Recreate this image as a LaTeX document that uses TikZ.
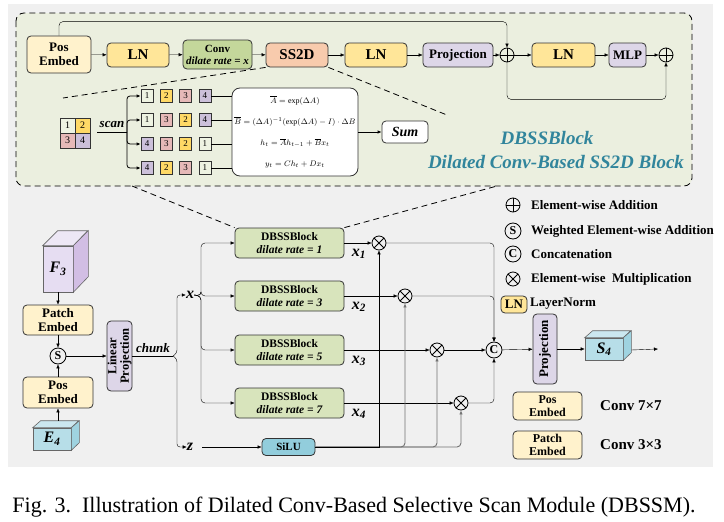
\documentclass[tikz,border=0pt]{standalone}
\usepackage{fontspec}
\setmainfont{Liberation Serif}
\usetikzlibrary{arrows.meta}

\definecolor{bggray}{HTML}{F0F0F0}
\definecolor{blockbg}{HTML}{EBEFDF}
\definecolor{posfill}{HTML}{FFF2CC}
\definecolor{lnfill}{HTML}{FFE699}
\definecolor{convfill}{HTML}{C4D79B}
\definecolor{ssfill}{HTML}{F8CBAD}
\definecolor{projfill}{HTML}{DDD6E8}
\definecolor{dbfill}{HTML}{D8E4BC}
\definecolor{silufill}{HTML}{92CDDC}
\definecolor{titleteal}{HTML}{31859C}
\definecolor{cell1}{HTML}{EEF3E2}
\definecolor{cell2}{HTML}{FFD966}
\definecolor{cell3}{HTML}{E6B9B8}
\definecolor{cell4}{HTML}{CCC0DA}
\definecolor{ffront}{HTML}{E6DDF2}
\definecolor{ftop}{HTML}{EDE7F5}
\definecolor{fside}{HTML}{D2BEE4}
\definecolor{efront}{HTML}{B7DEE8}
\definecolor{etop}{HTML}{CBE7EF}
\definecolor{eside}{HTML}{9FD3E0}

\begin{document}
\begin{tikzpicture}[x=1pt,y=-1pt]
\tikzstyle{every node}+=[inner sep=0pt]
\tikzstyle{arr}=[-{Latex[length=4pt,width=3.5pt]}]
\tikzstyle{box}=[draw=black!80, line width=0.8pt, rounded corners=4pt, align=center, font=\bfseries\fontsize{13}{14}\selectfont]
\tikzstyle{posbox}=[box, fill=posfill]
\tikzstyle{lnbox}=[box, fill=lnfill, minimum width=62pt, minimum height=24pt, font=\bfseries\fontsize{15}{16}\selectfont]
\tikzstyle{projbox}=[box, fill=projfill]
\tikzstyle{dbbox}=[box, fill=dbfill, minimum width=109pt, minimum height=30pt, font=\bfseries\fontsize{11.5}{13}\selectfont]
\tikzstyle{cell}=[draw=black!80, line width=0.7pt, minimum width=12pt, minimum height=13pt, font=\fontsize{9}{9}\selectfont]
\tikzstyle{op}=[draw, circle, line width=0.8pt, minimum size=14pt]
\tikzstyle{opl}=[op, minimum size=16pt, font=\bfseries\fontsize{12}{12}\selectfont]
\tikzstyle{lbl}=[font=\bfseries\itshape\fontsize{16}{16}\selectfont]
\tikzstyle{legtxt}=[anchor=west, font=\bfseries\fontsize{13}{13}\selectfont]
\tikzstyle{cube}=[draw=black!60, line width=0.6pt]

\useasboundingbox[fill=white] (0,0) rectangle (724,522);
\fill[bggray] (8,4) rectangle (713,467);

% DBSSBlock detail
\draw[dashed, dash pattern=on 6pt off 4pt, line width=0.8pt, fill=blockbg, rounded corners=8pt] (16,13) rectangle (692,186);

\node[posbox, minimum width=64pt, minimum height=37pt] (pe) at (59,54.5) {Pos\\Embed};
\node[lnbox] (ln1) at (138,55) {LN};
\node[box, fill=convfill, minimum width=69pt, minimum height=29pt, font=\bfseries\fontsize{11}{12}\selectfont] (conv) at (217.5,54.5) {Conv\\{\itshape dilate rate = x}};
\node[lnbox, fill=ssfill] (ss2d) at (297,55) {SS2D};
\node[lnbox] (ln2) at (376,55) {LN};
\node[projbox, minimum width=70pt, minimum height=24pt] (proj) at (458,55) {Projection};
\node[op] (add1) at (507,55) {};
\node[lnbox, minimum width=63pt] (ln3) at (563.5,55) {LN};
\node[projbox, minimum width=37pt, minimum height=24pt] (mlp) at (627.5,55) {MLP};
\node[op] (add2) at (666,55) {};
\foreach \a in {add1,add2}
  \draw[line width=0.8pt] (\a.north) -- (\a.south) (\a.west) -- (\a.east);

\draw[arr] (pe) -- (ln1);
\draw[arr] (ln1) -- (conv);
\draw[arr] (conv) -- (ss2d);
\draw[arr] (ss2d) -- (ln2);
\draw[arr] (ln2) -- (proj);
\draw[arr] (proj) -- (add1);
\draw[arr] (add1) -- (ln3);
\draw[arr] (ln3) -- (mlp);
\draw[arr] (mlp) -- (add2);
\draw[arr, rounded corners=4pt] (pe.north) -- ++(0,-14) -| (add1.north);
\draw[arr, rounded corners=4pt] (add1.south) -- ++(0,37) -| (add2.south);

% scan part
\coordinate (fl) at (63,98);
\coordinate (fr) at (447,115);
\draw[dashed, dash pattern=on 6pt off 4pt, line width=0.8pt] (ss2d.south west) -- (fl);
\draw[dashed, dash pattern=on 6pt off 4pt, line width=0.8pt] (ss2d.south east) -- (fr);

\foreach \n/\cx/\cy in {1/67.5/125.5, 2/82.5/125.5, 3/67.5/140.5, 4/82.5/140.5}
  \node[cell, fill=cell\n, minimum width=15pt, minimum height=15pt, font=\fontsize{10}{10}\selectfont] (g\n) at (\cx,\cy) {\n};
\coordinate (scst) at (97,132);
\coordinate (sc) at (127,132);
\draw[line width=0.8pt] (scst) -- (sc);
\node[font=\bfseries\itshape\fontsize{13}{13}\selectfont] (scan) at (112,124.5) {scan};

\node[draw=black!80, line width=0.8pt, fill=white, rounded corners=8pt, minimum width=126pt, minimum height=88pt, align=center, font=\fontsize{8}{21.3}\selectfont] (eq) at (295,132)
  {$\overline{A}=\exp(\Delta A)$\\
   $\overline{B}=(\Delta A)^{-1}(\exp(\Delta A)-I)\cdot\Delta B$\\
   $h_t=\overline{A}h_{t-1}+\overline{B}x_t$\\
   $y_t=Ch_t+Dx_t$};
\node[box, fill=white, minimum width=46pt, minimum height=22pt, font=\bfseries\itshape\fontsize{14}{14}\selectfont] (sum) at (405,132) {Sum};
\draw[arr, line width=0.8pt] (eq) -- (sum);

\foreach \seq [count=\r] in {{1,2,3,4},{1,3,2,4},{4,3,2,1},{4,2,3,1}} {
  \foreach \n [count=\c] in \seq
    \node[cell, fill=cell\n] (s\r-\c) at ({147+19.3*(\c-1)},{96+24*(\r-1)}) {\n};
  \draw[arr, line width=0.8pt, rounded corners=3pt] (sc) |- (s\r-1.west);
  \draw[line width=0.8pt] (s\r-4.east) -- (s\r-4.east -| eq.west);
}

\node[font=\bfseries\itshape\fontsize{19}{19}\selectfont, text=titleteal] (tt1) at (547,138) {DBSSBlock};
\node[font=\bfseries\itshape\fontsize{19}{19}\selectfont, text=titleteal] (tt2) at (556,162) {Dilated Conv-Based SS2D Block};

% input side
\node[cube, fill=ffront, minimum width=30pt, minimum height=46pt, font=\bfseries\itshape\fontsize{16}{16}\selectfont] (f3) at (58,269) {F\textsubscript{3}};
\draw[cube, fill=ftop] (f3.north west) -- ++(15,-15) -- ++(30,0) -- (f3.north east) -- cycle;
\draw[cube, fill=fside] (f3.north east) -- ++(15,-15) -- ++(0,46) -- (f3.south east) -- cycle;

\node[posbox, minimum width=70pt, minimum height=30pt] (pat) at (58,320) {Patch\\Embed};
\node[opl] (ws) at (58,356) {S};
\node[posbox, minimum width=70pt, minimum height=31pt] (pos) at (58,392.5) {Pos\\Embed};

\node[cube, fill=efront, minimum width=38pt, minimum height=22pt, font=\bfseries\itshape\fontsize{16}{16}\selectfont] (e4) at (52,439) {E\textsubscript{4}};
\draw[cube, fill=etop] (e4.north west) -- ++(8,-7) -- ++(38,0) -- (e4.north east) -- cycle;
\draw[cube, fill=eside] (e4.north east) -- ++(8,-7) -- ++(0,22) -- (e4.south east) -- cycle;

\draw[arr] (f3.south -| pat.north) -- (pat.north);
\draw[arr] (pat) -- (ws);
\draw[arr] (pos) -- (ws);
\draw[arr] ([xshift=6pt,yshift=7pt]e4.north) -- (pos.south);

\node[projbox, rotate=90, minimum width=70pt, minimum height=25pt, font=\bfseries\fontsize{12.5}{12.5}\selectfont] (lp) at (119.5,356) {Linear\\Projection};
\draw[arr] (ws) -- (lp);

\coordinate (chk) at (173,356);
\node[font=\bfseries\itshape\fontsize{13}{13}\selectfont] (chunk) at (153,348) {chunk};
\node[lbl] (xl) at (190,295) {x};
\node[lbl] (zl) at (190,447) {z};
\draw (lp) -- (chk);
\draw[arr, rounded corners=3pt] (chk) -- ++(4,-3) |- (xl.west);
\draw[arr, rounded corners=3pt] (chk) -- ++(4,3) |- (zl.west);

% four branches
\coordinate (xs) at (201,296);
\foreach \k/\r/\yy in {1/1/243, 2/3/296, 3/5/350, 4/7/403} {
  \node[dbbox] (db\k) at (289.5,\yy) {DBSSBlock\\{\itshape dilate rate = \r}};
  \node[lbl] (x\k) at (359,\yy+11) {x\textsubscript{\k}};
  \draw[arr, rounded corners=4pt] (xl.east) -- (xs) |- (db\k.west);
}
\draw[dashed, dash pattern=on 6pt off 4pt, line width=0.8pt] (132,186) -- (db1.north west);
\draw[dashed, dash pattern=on 6pt off 4pt, line width=0.8pt] (db1.north east) -- (497,186);

\node[op] (m1) at (379,243) {};
\node[op] (m2) at (405,296) {};
\node[op] (m3) at (437,350) {};
\node[op] (m4) at (461,403) {};
\foreach \m in {m1,m2,m3,m4}
  \draw[line width=0.8pt] (\m.north west) -- (\m.south east) (\m.north east) -- (\m.south west);
\node[opl] (cc) at (494,350) {C};

\foreach \k in {1,2,3,4}
  \draw[arr] (db\k) -- (m\k);
\draw[arr, rounded corners=4pt] (m1) -| (cc.north);
\draw[arr, rounded corners=4pt] (m2) -| (cc.north);
\draw[arr] (m3) -- (cc);
\draw[arr, rounded corners=4pt] (m4) -| (cc.south);

\node[box, fill=silufill, minimum width=53pt, minimum height=17pt, font=\bfseries\fontsize{11}{11}\selectfont] (silu) at (288.5,447) {SiLU};
\draw[arr] (zl.east) ++(9,0) -- (silu.west);
\foreach \k in {2,3,4}
  \draw[arr, black!55, line width=0.9pt, rounded corners=4pt] (silu.east) -| (m\k.south);
\draw[arr] (silu.east) -| (m1.south);

% output side
\node[projbox, rotate=90, minimum width=70pt, minimum height=24pt] (pj) at (545,349) {Projection};
\node[cube, fill=efront, minimum width=38pt, minimum height=22pt, font=\bfseries\itshape\fontsize{16}{16}\selectfont] (s4) at (604,349) {S\textsubscript{4}};
\draw[cube, fill=etop] (s4.north west) -- ++(8,-7) -- ++(38,0) -- (s4.north east) -- cycle;
\draw[cube, fill=eside] (s4.north east) -- ++(8,-7) -- ++(0,22) -- (s4.south east) -- cycle;
\coordinate (s4out) at (658,349);
\draw[arr] (cc) -- (pj);
\draw[arr] (pj) -- (s4);
\draw[arr] ([xshift=8pt,yshift=-1pt]s4.east) -- (s4out);

% legend
\node[op] (la) at (513,205) {};
\draw[line width=0.8pt] (la.north) -- (la.south) (la.west) -- (la.east);
\node[opl] (ls) at (513,231) {S};
\node[opl] (lc) at (513,254) {C};
\node[op] (lm) at (513,279) {};
\draw[line width=0.8pt] (lm.north west) -- (lm.south east) (lm.north east) -- (lm.south west);
\node[box, fill=lnfill, minimum width=26pt, minimum height=17pt] (lln) at (514,304.5) {LN};
\node[legtxt] at (531,205) {Element-wise Addition};
\node[legtxt] at (531,231) {Weighted Element-wise Addition};
\node[legtxt] at (531,254) {Concatenation};
\node[legtxt] at (531,279) {Element-wise\ \ Multiplication};
\node[legtxt] at (530,304) {LayerNorm};

\node[posbox, minimum width=69pt, minimum height=28pt, font=\bfseries\fontsize{12}{13}\selectfont] (lpos) at (547.5,406) {Pos\\Embed};
\node[posbox, minimum width=69pt, minimum height=28pt, font=\bfseries\fontsize{12}{13}\selectfont] (lpat) at (547.5,445) {Patch\\Embed};
\node[legtxt, font=\bfseries\fontsize{15}{15}\selectfont] at (600,406) {Conv 7×7};
\node[legtxt, font=\bfseries\fontsize{15}{15}\selectfont] at (600,445) {Conv 3×3};

% caption
\node[font=\fontsize{22}{22}\selectfont] (cap) at (354,507) {Fig. 3.\ \ Illustration of Dilated Conv-Based Selective Scan Module (DBSSM).};
\end{tikzpicture}
\end{document}
